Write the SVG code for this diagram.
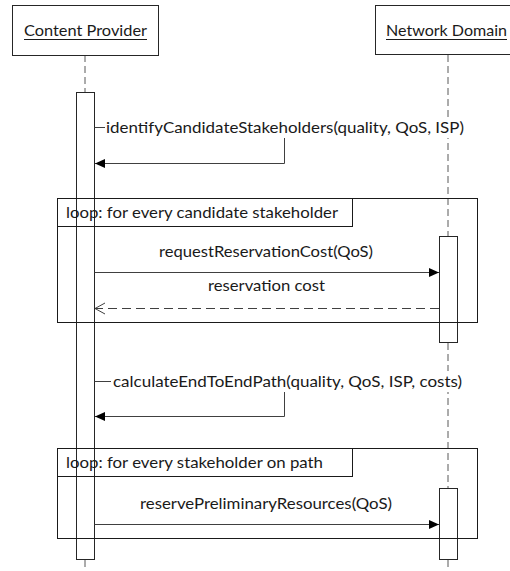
<svg xmlns="http://www.w3.org/2000/svg" width="510" height="571" viewBox="0 0 510 571">
  <style>
    text { font-family: Lato, "Open Sans", "Liberation Sans", sans-serif; fill: #1a1a1a; }
    .hdr { font-size: 16px; }
    .msg { font-size: 15px; }
    .box { fill: #ffffff; stroke: #262626; stroke-width: 1; }
    .act { fill: none; stroke: #262626; stroke-width: 1; }
    .frame { fill: none; stroke: #1a1a1a; stroke-width: 1; }
    .life { fill: none; stroke: #595959; stroke-width: 1; stroke-dasharray: 7 4; }
    .call { fill: none; stroke: #404040; stroke-width: 1; marker-end: url(#solid); }
    .ret { fill: none; stroke: #404040; stroke-width: 1; stroke-dasharray: 9 5; marker-end: url(#open); }
    .ul { stroke: #1a1a1a; stroke-width: 1; }
    .bg { fill: #ffffff; }
  </style>
  <defs>
    <marker id="solid" markerUnits="userSpaceOnUse" markerWidth="12" markerHeight="12" viewBox="0 0 12 12" refX="11" refY="6" orient="auto">
      <path d="M1,1.5 L11,6 L1,10.5 Z" fill="#000000"/>
    </marker>
    <marker id="open" markerUnits="userSpaceOnUse" markerWidth="12" markerHeight="14" viewBox="0 0 12 14" refX="11" refY="7" orient="auto">
      <path d="M1,1.5 L11,7 L1,12.5" fill="none" stroke="#404040" stroke-width="1"/>
    </marker>
  </defs>

  <!-- lifelines -->
  <g id="lifelines">
    <line class="life" x1="85" y1="55" x2="85" y2="92"/>
    <line class="life" x1="85" y1="560" x2="85" y2="571"/>
    <line class="life" x1="448" y1="55" x2="448" y2="236"/>
    <line class="life" x1="448" y1="343" x2="448" y2="488"/>
    <line class="life" x1="448" y1="560" x2="448" y2="571"/>
  </g>

  <g id="content-provider">
    <rect class="box" x="12.5" y="5.5" width="146" height="50"/>
    <text class="hdr" x="24" y="35.5" textLength="123" lengthAdjust="spacingAndGlyphs">Content Provider</text>
    <line class="ul" x1="24" y1="39.5" x2="147" y2="39.5"/>
    <rect class="act" x="76.5" y="92.5" width="18" height="467"/>
  </g>

  <g id="network-domain">
    <rect class="box" x="375.5" y="5.5" width="150" height="49"/>
    <text class="hdr" x="386" y="35.5" textLength="121" lengthAdjust="spacingAndGlyphs">Network Domain</text>
    <line class="ul" x1="386" y1="39.5" x2="507" y2="39.5"/>
    <rect class="act" x="439.5" y="236.5" width="18" height="106"/>
    <rect class="act" x="439.5" y="488.5" width="18" height="71"/>
  </g>

  <g id="loop-candidates">
    <rect class="frame" x="57.5" y="198.5" width="420" height="124"/>
    <rect class="frame" x="57.5" y="198.5" width="295" height="28"/>
    <text class="msg" x="66" y="217.5" textLength="272" lengthAdjust="spacingAndGlyphs">loop: for every candidate stakeholder</text>
  </g>

  <g id="loop-path">
    <rect class="frame" x="57.5" y="448.5" width="420" height="90"/>
    <rect class="frame" x="57.5" y="448.5" width="295" height="28"/>
    <text class="msg" x="66" y="467.5" textLength="257" lengthAdjust="spacingAndGlyphs">loop: for every stakeholder on path</text>
  </g>

  <!-- messages -->
  <g id="connectors">
    <path class="call" d="M94.5,127.5 H284.5 V163.5 H95"/>
    <rect class="bg" x="105" y="117" width="361" height="21"/>
    <text class="msg" x="106" y="132.5" textLength="358" lengthAdjust="spacingAndGlyphs">identifyCandidateStakeholders(quality, QoS, ISP)</text>

    <line class="call" x1="94.5" y1="272.5" x2="439" y2="272.5"/>
    <text class="msg" x="159" y="256.5" textLength="214" lengthAdjust="spacingAndGlyphs">requestReservationCost(QoS)</text>

    <line class="ret" x1="439" y1="308.5" x2="95" y2="308.5"/>
    <text class="msg" x="208" y="290.5" textLength="117" lengthAdjust="spacingAndGlyphs">reservation cost</text>

    <path class="call" d="M94.5,381.5 H284.5 V416.5 H95"/>
    <rect class="bg" x="111" y="371" width="354" height="21"/>
    <text class="msg" x="113" y="386.5" textLength="349" lengthAdjust="spacingAndGlyphs">calculateEndToEndPath(quality, QoS, ISP, costs)</text>

    <line class="call" x1="94.5" y1="524.5" x2="439" y2="524.5"/>
    <text class="msg" x="140" y="508.5" textLength="252" lengthAdjust="spacingAndGlyphs">reservePreliminaryResources(QoS)</text>
  </g>
</svg>
